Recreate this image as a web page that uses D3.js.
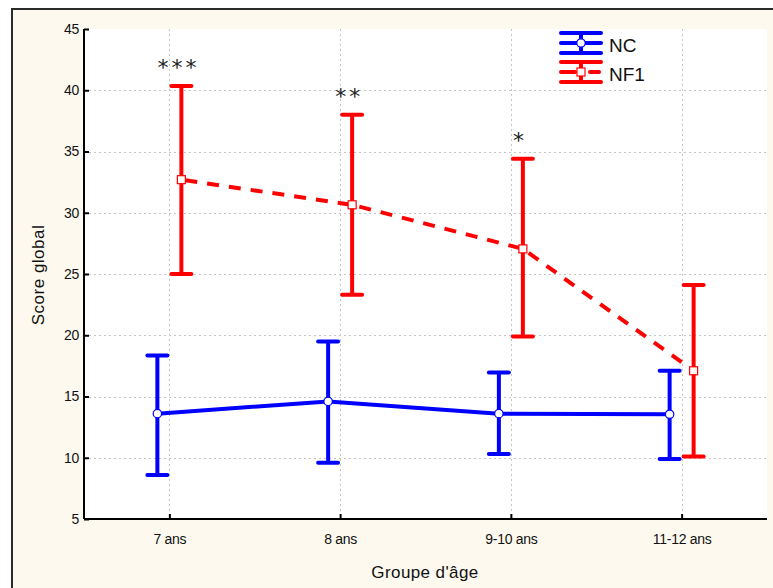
<!DOCTYPE html>
<html><head><meta charset="utf-8">
<script src="https://cdn.jsdelivr.net/npm/d3@7/dist/d3.min.js"></script>
<style>body{margin:0;background:#fff}svg{display:block;font-family:"Liberation Sans",Arial,sans-serif}</style>
</head><body>
<script>
const categories = ["7 ans", "8 ans", "9-10 ans", "11-12 ans"];
const ncMean  = [13.6, 14.6, 13.6, 13.55];
const ncLow   = [8.6, 9.6, 10.3, 9.9];
const ncHigh  = [18.35, 19.5, 16.95, 17.1];
const nf1Mean = [32.7, 30.65, 27.05, 17.1];
const nf1Low  = [25.0, 23.3, 19.9, 10.1];
const nf1High = [40.35, 38.0, 34.4, 24.1];
const stars   = ["***", "**", "*", ""];
const yTicks  = [5, 10, 15, 20, 25, 30, 35, 40, 45];

const W = 773, H = 588;
const svg = d3.select("body").append("svg").attr("width", W).attr("height", H);

// outer frame
svg.append("rect").attr("x", 12).attr("y", 9).attr("width", 800).attr("height", 600)
  .attr("fill", "#fdf9ee").attr("stroke", "#2a2a2a").attr("stroke-width", 2);

const pLeft = 84, pRight = 767, pTop = 29, pBottom = 519;
svg.append("rect").attr("x", pLeft).attr("y", pTop).attr("width", pRight - pLeft).attr("height", pBottom - pTop).attr("fill", "#fff");

const x = d3.scalePoint().domain(categories).range([pLeft, pRight]).padding(0.5);
const y = d3.scaleLinear().domain([5, 45]).range([pBottom, pTop]);
const off = 12;

// grid
const grid = svg.append("g").attr("stroke", "#c4c4c4").attr("stroke-width", 1).attr("stroke-dasharray", "2,3");
yTicks.filter(t => t > 5 && t < 45).forEach(t => {
  grid.append("line").attr("x1", pLeft).attr("x2", pRight).attr("y1", Math.round(y(t)) + 0.5).attr("y2", Math.round(y(t)) + 0.5);
});
categories.forEach(c => {
  grid.append("line").attr("x1", Math.round(x(c)) + 0.5).attr("x2", Math.round(x(c)) + 0.5).attr("y1", pTop).attr("y2", pBottom);
});

// axes (ticks point inward)
const yAxis = svg.append("g").attr("transform", `translate(${pLeft},0)`)
  .call(d3.axisLeft(y).tickValues(yTicks).tickSizeInner(-5).tickSizeOuter(0).tickPadding(5).tickFormat(d3.format("d")));
const xAxis = svg.append("g").attr("transform", `translate(0,${pBottom})`)
  .call(d3.axisBottom(x).tickSizeInner(-5).tickSizeOuter(0).tickPadding(15));
[yAxis, xAxis].forEach(a => {
  a.select(".domain").attr("stroke", "#000").attr("stroke-width", 2);
  a.selectAll(".tick line").attr("stroke", "#000").attr("stroke-width", 2);
  a.selectAll("text").attr("fill", "#111").style("font-size", "14px").style("letter-spacing", "-0.3px")
    .style("font-family", '"Liberation Sans",Arial,sans-serif');
});
xAxis.select(".domain").attr("d", `M${pLeft},0H${pRight}`);
yAxis.select(".domain").attr("d", `M0,${pTop}V${pBottom}`);

// axis titles
svg.append("text").attr("x", 425).attr("y", 578).attr("text-anchor", "middle")
  .style("font-size", "17px").style("letter-spacing", "0.4px").attr("fill", "#111").text("Groupe d'âge");
svg.append("text").attr("transform", "translate(44,275) rotate(-90)").attr("text-anchor", "middle")
  .style("font-size", "17px").style("letter-spacing", "0.5px").attr("fill", "#111").text("Score global");

function series(mean, low, high, color, dx, dashed, marker) {
  const g = svg.append("g");
  const pts = categories.map((c, i) => [x(c) + dx, y(mean[i])]);
  g.append("path").attr("d", d3.line()(pts)).attr("fill", "none").attr("stroke", color)
    .attr("stroke-width", 4).attr("stroke-dasharray", dashed ? "12,10" : null)
    .attr("stroke-dashoffset", dashed ? -4 : null);
  categories.forEach((c, i) => {
    const cx = x(c) + dx;
    g.append("line").attr("x1", cx).attr("x2", cx).attr("y1", y(low[i])).attr("y2", y(high[i]))
      .attr("stroke", color).attr("stroke-width", 4);
    [low[i], high[i]].forEach(v => g.append("line").attr("x1", cx - 10).attr("x2", cx + 10)
      .attr("y1", y(v)).attr("y2", y(v)).attr("stroke", color).attr("stroke-width", 4).attr("stroke-linecap", "round"));
    if (marker === "circle") {
      g.append("circle").attr("cx", cx).attr("cy", y(mean[i])).attr("r", 4.2).attr("fill", "#fff").attr("stroke", color).attr("stroke-width", 1.2);
    } else {
      g.append("rect").attr("x", cx - 4).attr("y", y(mean[i]) - 4).attr("width", 8).attr("height", 8).attr("fill", "#fff").attr("stroke", color).attr("stroke-width", 1.2);
    }
  });
}
series(ncMean, ncLow, ncHigh, "#0000ff", -off, false, "circle");
series(nf1Mean, nf1Low, nf1High, "#ff0000", off, true, "square");

// significance stars
categories.forEach((c, i) => {
  if (!stars[i]) return;
  svg.append("text").attr("x", x(c) + off - 3).attr("y", y(nf1High[i]) - 11).attr("text-anchor", "middle")
    .style("font-size", "22px").style("letter-spacing", "3px").attr("fill", "#222")
    .style("font-family", '"DejaVu Sans",sans-serif').text(stars[i]);
});

// legend
const legend = [
  {name: "NC", color: "#0000ff", marker: "circle", dashed: false},
  {name: "NF1", color: "#ff0000", marker: "square", dashed: true}
];
legend.forEach((d, i) => {
  const cy = 43 + i * 29, lx = 561, cx = 581;
  const g = svg.append("g");
  [cy - 10, cy + 10].forEach(yy => g.append("line").attr("x1", lx).attr("x2", lx + 40).attr("y1", yy).attr("y2", yy)
    .attr("stroke", d.color).attr("stroke-width", 4).attr("stroke-linecap", "round"));
  g.append("line").attr("x1", cx).attr("x2", cx).attr("y1", cy - 10).attr("y2", cy + 10).attr("stroke", d.color).attr("stroke-width", 4);
  if (d.dashed) {
    g.append("line").attr("x1", lx).attr("x2", lx + 14).attr("y1", cy).attr("y2", cy).attr("stroke", d.color).attr("stroke-width", 4).attr("stroke-linecap", "round");
    g.append("line").attr("x1", lx + 29).attr("x2", lx + 38).attr("y1", cy).attr("y2", cy).attr("stroke", d.color).attr("stroke-width", 4).attr("stroke-linecap", "round");
  } else {
    g.append("line").attr("x1", lx).attr("x2", lx + 40).attr("y1", cy).attr("y2", cy).attr("stroke", d.color).attr("stroke-width", 4).attr("stroke-linecap", "round");
  }
  if (d.marker === "circle") g.append("circle").attr("cx", cx).attr("cy", cy).attr("r", 4.2).attr("fill", "#fff").attr("stroke", d.color).attr("stroke-width", 1.2);
  else g.append("rect").attr("x", cx - 4).attr("y", cy - 4).attr("width", 8).attr("height", 8).attr("fill", "#fff").attr("stroke", d.color).attr("stroke-width", 1.2);
  g.append("text").attr("x", 609).attr("y", cy + 8.5).style("font-size", "19px").attr("fill", "#111").text(d.name);
});
</script>
</body></html>
